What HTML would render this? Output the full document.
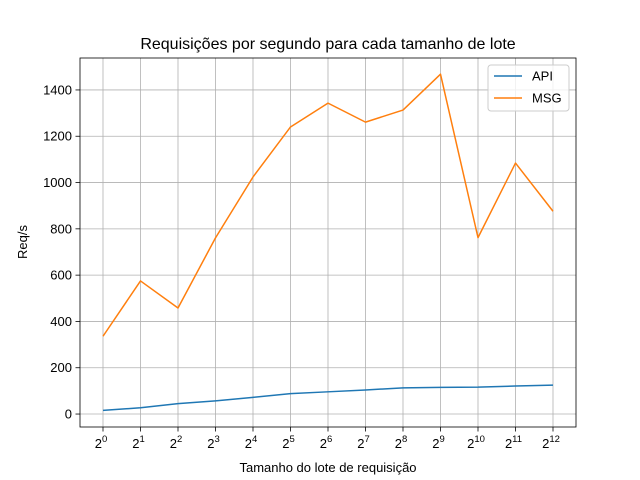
<!DOCTYPE html>
<html><head><meta charset="utf-8"><style>
body{margin:0;background:#fff;}
svg{display:block;font-family:"Liberation Sans","DejaVu Sans",sans-serif;}
</style></head><body>
<svg id="chart" width="640" height="480"></svg>
<script>
const categories=[0,1,2,3,4,5,6,7,8,9,10,11,12];
const apiValues=[16,27,45,57,72,88,96,104,113,115,116,121,125];
const msgValues=[336,575,458,761,1024,1240,1343,1261,1313,1468,762,1084,876];
const yTicks=[0,200,400,600,800,1000,1200,1400];
const NS="http://www.w3.org/2000/svg";
const svg=document.getElementById('chart');
const L=80,R=576,T=58,B=427;
const yMin=-56,yMax=1538;
function xs(i){return 103+(553-103)*(i-categories[0])/(categories[categories.length-1]-categories[0]);}
function ys(v){return B-(v-yMin)/(yMax-yMin)*(B-T);}
function el(tag,attrs,parent){const e=document.createElementNS(NS,tag);for(const k in attrs)e.setAttribute(k,attrs[k]);(parent||svg).appendChild(e);return e;}
const grid=el('g',{});


categories.forEach((c,i)=>{
 el('line',{x1:xs(c),x2:xs(c),y1:T,y2:B,stroke:'#b0b0b0','stroke-width':0.8},grid);
 el('line',{x1:xs(c),x2:xs(c),y1:B,y2:B+4.5,stroke:'#000','stroke-width':0.8});
 const t=el('text',{x:xs(c)-2,y:B+21,'font-size':13,'text-anchor':'middle',fill:'#000'});
 
 
 t.textContent='2';
 const s=el('tspan',{dy:-6,'font-size':9.5},t);s.textContent=String(c);
});
yTicks.forEach(v=>{
 el('line',{x1:L,x2:R,y1:ys(v),y2:ys(v),stroke:'#b0b0b0','stroke-width':0.8},grid);
 el('line',{x1:L-4.5,x2:L,y1:ys(v),y2:ys(v),stroke:'#000','stroke-width':0.8});
 const t=el('text',{x:L-8,y:ys(v)+4.5,'font-size':13,'text-anchor':'end',fill:'#000'});
 
 
 t.textContent=v;
});
function line(vals,color,name){
 const p=el('polyline',{points:vals.map((v,i)=>xs(categories[i])+','+ys(v)).join(' '),fill:'none',stroke:color,'stroke-width':1.5,'stroke-linejoin':'round'});
 
 
}
line(apiValues,'#1f77b4','api-line');
line(msgValues,'#ff7f0e','msg-line');
const frame=el('rect',{x:L,y:T,width:R-L,height:B-T,fill:'none',stroke:'#000','stroke-width':0.8});


const title=el('text',{x:328,y:49,'font-size':16,'text-anchor':'middle'});


title.textContent='Requisições por segundo para cada tamanho de lote';
const xt=el('text',{x:328,y:472,'font-size':13,'text-anchor':'middle'});


xt.textContent='Tamanho do lote de requisição';
const yt=el('text',{x:27,y:242,'font-size':13,'text-anchor':'middle',transform:'rotate(-90 27 242)'});


yt.textContent='Req/s';
const lg=el('g',{});


el('rect',{x:488,y:65,width:81,height:46,rx:3,fill:'#fff','fill-opacity':0.8,stroke:'#ccc'},lg);
[['API','#1f77b4',76],['MSG','#ff7f0e',98]].forEach(([n,c,y])=>{
 const g=el('g',{},lg);
 
 
 el('line',{x1:494,x2:522,y1:y,y2:y,stroke:c,'stroke-width':1.5},g);
 const t=el('text',{x:532,y:y+4.5,'font-size':13},g);t.textContent=n;
});
</script>
</body></html>
